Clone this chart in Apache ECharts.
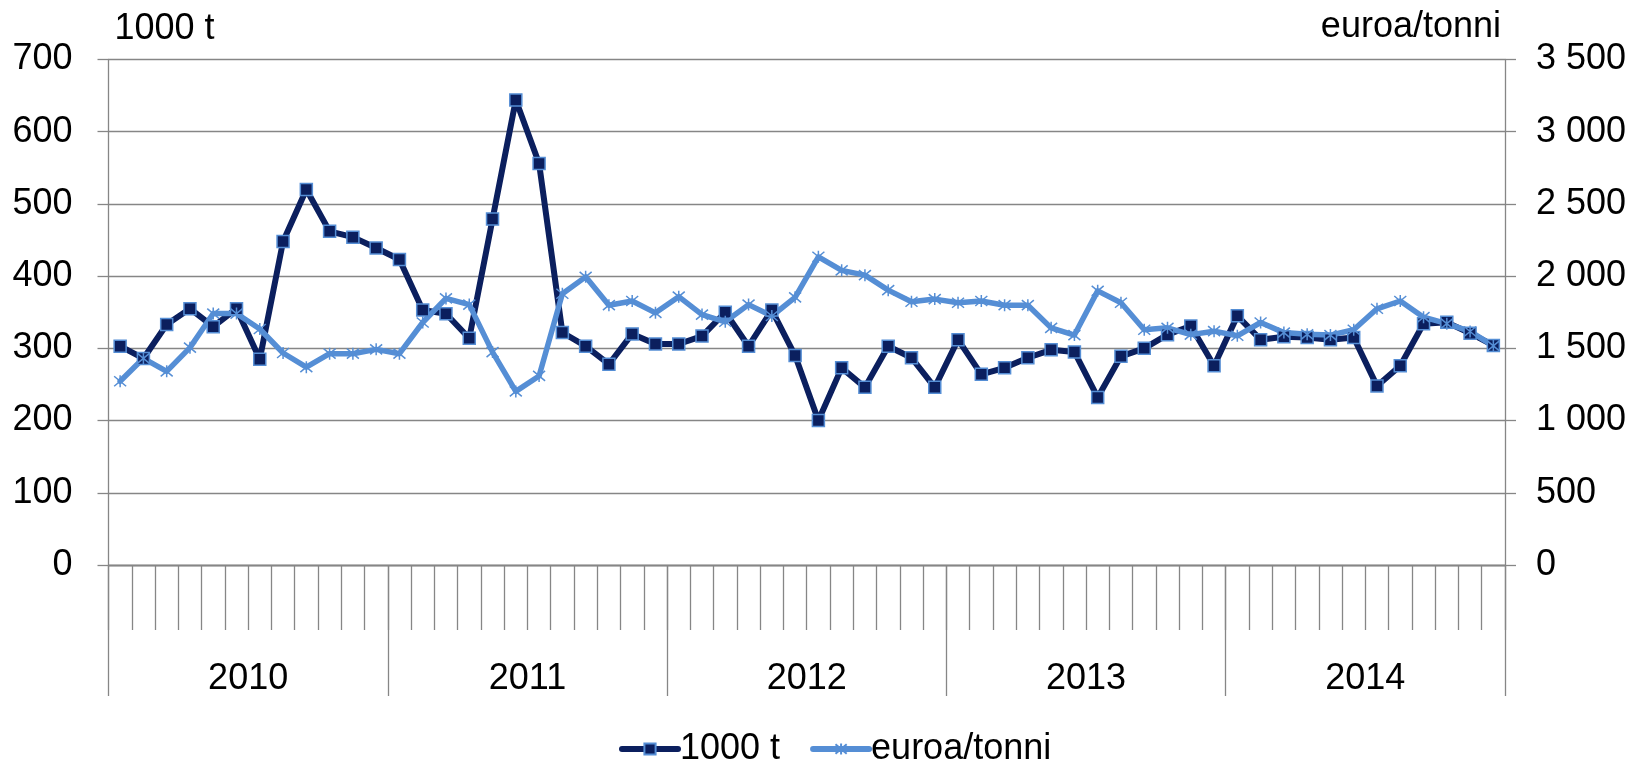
<!DOCTYPE html>
<html>
<head>
<meta charset="utf-8">
<script src="https://cdn.jsdelivr.net/npm/echarts@6/dist/echarts.min.js"></script>
<style>
html,body{margin:0;padding:0;background:#fff;}
#chart{width:1637px;height:764px;}
</style>
</head>
<body>
<div id="chart"></div>
<script>
const years = ['2010', '2011', '2012', '2013', '2014'];
const monthNums = ['01','02','03','04','05','06','07','08','09','10','11','12'];
const months = [];
years.forEach(y => monthNums.forEach(m => months.push(y + '-' + m)));

const volume1000t = [
  303, 286, 333, 355, 330, 355, 285, 448, 520, 462, 454, 439,
  423, 353, 348, 314, 479, 644, 556, 322, 303, 278, 320, 306,
  306, 317, 350, 303, 353, 290, 200, 273, 246, 303, 287, 246,
  312, 264, 273, 287, 298, 295, 232, 289, 300, 319, 331, 276,
  345, 312, 316, 315, 312, 315, 248, 276, 334, 336, 321, 304
];
const priceEurPerTonne = [
  1272, 1431, 1341, 1505, 1741, 1741, 1634, 1468, 1370, 1463, 1463, 1493,
  1463, 1679, 1846, 1803, 1474, 1202, 1309, 1878, 1995, 1799, 1828, 1746,
  1858, 1734, 1684, 1803, 1724, 1853, 2134, 2040, 2007, 1903, 1823, 1841,
  1816, 1828, 1799, 1799, 1642, 1592, 1898, 1816, 1629, 1642, 1595, 1619,
  1587, 1679, 1609, 1597, 1592, 1629, 1774, 1828, 1716, 1671, 1617, 1517
];
const leftTicks = {min: 0, max: 700, interval: 100};
const rightTicks = {min: 0, max: 3500, interval: 500};
const seriesNames = ['1000 t', 'euroa/tonni'];

const FONT = 'Liberation Sans, Arial, sans-serif';
const GRAY = '#868686';
const DARK = '#0b1f5e';
const LIGHT = '#558ED5';
const FS = 36;

const chart = echarts.init(document.getElementById('chart'), null, {renderer: 'canvas', width: 1637, height: 764});

const fmtThousands = v => String(v).replace(/\B(?=(\d{3})+(?!\d))/g, ' ');

chart.setOption({
  animation: false,
  backgroundColor: '#fff',
  textStyle: {fontFamily: FONT, color: '#000'},
  grid: {left: 108.5, right: 132, top: 59.5, bottom: 199, containLabel: false},
  legend: {
    data: seriesNames,
    left: 614, top: 726,
    itemWidth: 56, itemHeight: 14, itemGap: 30,
    lineStyle: {width: 6, cap: 'round'},
    textStyle: {fontFamily: FONT, fontSize: FS, color: '#000', padding: [0, 0, 0, -3]}
  },
  xAxis: [
    {
      type: 'category', data: months, boundaryGap: true, position: 'bottom',
      axisLine: {show: true, lineStyle: {color: GRAY, width: 1.3}},
      axisTick: {show: true, interval: 0, length: 65, lineStyle: {color: GRAY, width: 1.3}},
      axisLabel: {show: false},
      splitLine: {show: false}
    },
    {
      type: 'category', data: years, boundaryGap: true, position: 'bottom',
      axisLine: {show: true, lineStyle: {color: GRAY, width: 1.3}},
      axisTick: {show: true, interval: 0, length: 131, lineStyle: {color: GRAY, width: 1.3}},
      axisLabel: {show: true, margin: 96, fontFamily: FONT, fontSize: FS, color: '#000'},
      splitLine: {show: false}
    }
  ],
  yAxis: [
    {
      type: 'value', min: leftTicks.min, max: leftTicks.max, interval: leftTicks.interval, position: 'left',
      name: seriesNames[0], nameLocation: 'end', nameGap: 30,
      nameTextStyle: {fontFamily: FONT, fontSize: FS, color: '#000', align: 'left', verticalAlign: 'middle', padding: [0, 0, 0, 6]},
      axisLine: {show: true, lineStyle: {color: GRAY, width: 1.3}},
      axisTick: {show: true, length: 11, lineStyle: {color: GRAY, width: 1.3}},
      axisLabel: {margin: 36, fontFamily: FONT, fontSize: FS, color: '#000'},
      splitLine: {show: true, lineStyle: {color: GRAY, width: 1.3}}
    },
    {
      type: 'value', min: rightTicks.min, max: rightTicks.max, interval: rightTicks.interval, position: 'right',
      name: seriesNames[1], nameLocation: 'end', nameGap: 32,
      nameTextStyle: {fontFamily: FONT, fontSize: FS, color: '#000', align: 'right', verticalAlign: 'middle', padding: [0, 4, 0, 0]},
      axisLine: {show: true, lineStyle: {color: GRAY, width: 1.3}},
      axisTick: {show: true, length: 11, lineStyle: {color: GRAY, width: 1.3}},
      axisLabel: {margin: 31, fontFamily: FONT, fontSize: FS, color: '#000', formatter: fmtThousands},
      splitLine: {show: false}
    }
  ],
  series: [
    {
      name: seriesNames[0], type: 'line', xAxisIndex: 0, yAxisIndex: 0,
      data: volume1000t,
      lineStyle: {color: DARK, width: 6, join: 'round', cap: 'round'},
      symbol: 'rect', symbolSize: 12, showSymbol: true,
      itemStyle: {color: DARK, borderColor: LIGHT, borderWidth: 1.5},
      emphasis: {disabled: true}
    },
    {
      name: seriesNames[1], type: 'line', xAxisIndex: 0, yAxisIndex: 1,
      data: priceEurPerTonne,
      lineStyle: {color: LIGHT, width: 5.5, join: 'round', cap: 'round'},
      symbol: 'path://M0,0 L10,10 M10,0 L0,10 M5,-1 L5,11', symbolSize: 12, showSymbol: true,
      itemStyle: {color: LIGHT, borderColor: LIGHT, borderWidth: 1.5},
      emphasis: {disabled: true}
    }
  ]
});
</script>
</body>
</html>
